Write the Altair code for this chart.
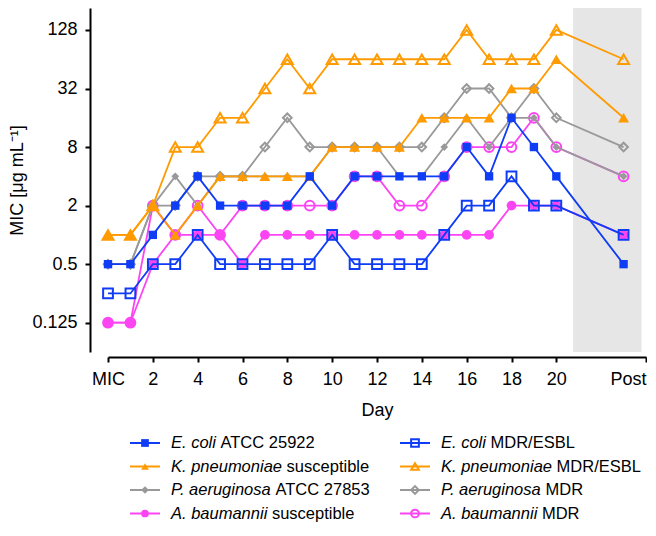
import altair as alt
import pandas as pd

FONT = "Liberation Sans"

# ---- data -------------------------------------------------------------
days = [0, 1, 2, 3, 4, 5, 6, 7, 8, 9, 10, 11, 12, 13, 14, 15, 16, 17, 18, 19, 20, 23]

ec_atcc = [0.5, 0.5, 1, 2, 4, 2, 2, 2, 2, 4, 2, 4, 4, 4, 4, 4, 8, 4, 16, 8, 4, 0.5]
ec_mdr = [0.25, 0.25, 0.5, 0.5, 1, 0.5, 0.5, 0.5, 0.5, 0.5, 1, 0.5, 0.5, 0.5, 0.5, 1, 2, 2, 4, 2, 2, 1]
kp_sus = [1, 1, 2, 1, 2, 4, 4, 4, 4, 4, 8, 8, 8, 8, 16, 16, 16, 16, 32, 32, 64, 16]
kp_mdr = [1, 1, 2, 8, 8, 16, 16, 32, 64, 32, 64, 64, 64, 64, 64, 64, 128, 64, 64, 64, 128, 64]
pa_atcc = [0.5, 0.5, 2, 4, 2, 4, 4, 4, 4, 4, 8, 8, 8, 4, 4, 8, 16, 8, 16, 16, 8, 4]
pa_mdr = [0.5, 0.5, 2, 2, 4, 4, 4, 8, 16, 8, 8, 8, 8, 8, 8, 16, 32, 32, 16, 32, 16, 8]
ab_sus = [0.125, 0.125, 0.5, 1, 1, 1, 0.5, 1, 1, 1, 1, 1, 1, 1, 1, 1, 1, 1, 2, 2, 2, 1]
ab_mdr = [0.125, 0.125, 2, 1, 2, 1, 2, 2, 2, 2, 2, 4, 4, 2, 2, 4, 8, 8, 8, 16, 8, 4]

series_names = [
    "E. coli ATCC 25922", "E. coli MDR/ESBL",
    "K. pneumoniae susceptible", "K. pneumoniae MDR/ESBL",
    "P. aeruginosa ATCC 27853", "P. aeruginosa MDR",
    "A. baumannii susceptible", "A. baumannii MDR",
]
series_values = [ec_atcc, ec_mdr, kp_sus, kp_mdr, pa_atcc, pa_mdr, ab_sus, ab_mdr]

species = ["E. coli", "K. pneumoniae", "P. aeruginosa", "A. baumannii"]
left_rest = ["ATCC 25922", "susceptible", "ATCC 27853", "susceptible"]
right_rest = ["MDR/ESBL", "MDR/ESBL", "MDR", "MDR"]

x_tick_values = [0, 2, 4, 6, 8, 10, 12, 14, 16, 18, 20, 24]
y_tick_values = [0.125, 0.5, 2, 8, 32, 128]
post_region = [20.75, 23.8]
y_domain = [2 ** -4, 2 ** 7.75]

# ---- styles -------------------------------------------------------------
BLUE, ORANGE, GRAY, PINK = "#0f3cf5", "#ff9a00", "#999999", "#fb45f3"
row_colors = [BLUE, ORANGE, GRAY, PINK]
row_shapes = ["square", "triangle-up", "diamond", "circle"]
style = {
    "E. coli ATCC 25922": (BLUE, "square", True, 70),
    "E. coli MDR/ESBL": (BLUE, "square", False, 95),
    "K. pneumoniae susceptible": (ORANGE, "triangle-up", True, 120),
    "K. pneumoniae MDR/ESBL": (ORANGE, "triangle-up", False, 120),
    "P. aeruginosa ATCC 27853": (GRAY, "diamond", True, 60),
    "P. aeruginosa MDR": (GRAY, "diamond", False, 75),
    "A. baumannii susceptible": (PINK, "circle", True, 95),
    "A. baumannii MDR": (PINK, "circle", False, 95),
}

rows = []
for name, vals in zip(series_names, series_values):
    for d, v in zip(days, vals):
        rows.append({"series": name, "day": d, "mic": v})
df = pd.DataFrame(rows)

xscale = alt.Scale(domain=[0, 24], nice=False, zero=False)
yscale = alt.Scale(type="log", base=2, domain=y_domain, nice=False)

xaxis = alt.Axis(
    values=x_tick_values,
    labelExpr="datum.value == 0 ? 'MIC' : (datum.value == 24 ? 'Post' : datum.label)",
    labelAlign={"condition": {"test": "datum.value == 24", "value": "right"}, "value": "center"},
    labelFlush=False, labelOverlap=False, grid=False,
    offset=5, tickSize=5, tickWidth=2, domainWidth=2,
    domainColor="black", tickColor="black",
    labelFontSize=18, titleFontSize=18, labelPadding=8, titlePadding=13,
    labelColor="black", titleColor="black", titleFontWeight="normal",
    labelFont=FONT, titleFont=FONT, title="Day",
)
yaxis = alt.Axis(
    values=y_tick_values, format="~g", grid=False,
    offset=18, tickSize=5, tickWidth=2, domainWidth=2,
    domainColor="black", tickColor="black",
    labelFontSize=18, titleFontSize=18, labelPadding=8, titlePadding=5,
    labelColor="black", titleColor="black", titleFontWeight="normal",
    labelFont=FONT, titleFont=FONT, title="MIC [μg mL⁻¹]",
)

X = alt.X("day:Q", scale=xscale, axis=xaxis)
Y = alt.Y("mic:Q", scale=yscale, axis=yaxis)

shade_df = pd.DataFrame({"day": [post_region[0]], "day2": [post_region[1]],
                         "mic": [y_domain[1]], "mic2": [y_domain[0]]})
shade = alt.Chart(shade_df).mark_rect(color="#e6e6e6").encode(
    x=X, x2="day2:Q", y=Y, y2="mic2:Q"
)

main_layers = [shade]
for name in reversed(series_names):
    color, shape, filled, size = style[name]
    base = alt.Chart(df).transform_filter(alt.datum.series == name)
    main_layers.append(base.mark_line(color=color, strokeWidth=1.8).encode(x=X, y=Y))
    if filled:
        pts = base.mark_point(shape=shape, filled=True, size=size, color=color,
                              opacity=1, strokeWidth=0)
    else:
        pts = base.mark_point(shape=shape, filled=False, size=size, color=color,
                              opacity=1, strokeWidth=2)
    main_layers.append(pts.encode(x=X, y=Y))
main = alt.layer(*main_layers).properties(width=538, height=344)

# ---- legend (built from marks so species names can be italic) -----------
leg_df = pd.DataFrame({
    "row": [0, 1, 2, 3, 0, 1, 2, 3],
    "col": [0, 0, 0, 0, 1, 1, 1, 1],
    "italic": species + species,
    "rest": left_rest + right_rest,
})
LX = alt.X("col:Q", scale=alt.Scale(domain=[0, 1], range=[37, 307]), axis=None)
LY = alt.Y("row:Q", scale=alt.Scale(domain=[0, 3], range=[8, 78.5]), axis=None)
LC = alt.Color("row:N", scale=alt.Scale(domain=[0, 1, 2, 3], range=row_colors), legend=None)
LS = alt.Shape("row:N", scale=alt.Scale(domain=[0, 1, 2, 3], range=row_shapes), legend=None)

lbase = alt.Chart(leg_df)
leg_line = lbase.mark_point(shape="stroke", size=900, strokeWidth=2, filled=False,
                            opacity=1).encode(x=LX, y=LY, color=LC)
leg_fill = lbase.transform_filter(alt.datum.col == 0).mark_point(
    filled=True, size=60, opacity=1, strokeWidth=0).encode(x=LX, y=LY, color=LC, shape=LS)
leg_open = lbase.transform_filter(alt.datum.col == 1).mark_point(
    filled=False, size=60, opacity=1, strokeWidth=2).encode(x=LX, y=LY, color=LC, shape=LS)
TEXT_DX = 26
leg_it = lbase.mark_text(align="left", baseline="middle", dx=TEXT_DX, fontSize=16.5,
                         fontStyle="italic", font=FONT, color="black").encode(
    x=LX, y=LY, text="italic:N")
italic_widths = [49.5, 115.6, 104.5, 100.9]
leg_rest = []
for r, w in enumerate(italic_widths):
    leg_rest.append(
        lbase.transform_filter(alt.datum.row == r).mark_text(
            align="left", baseline="middle", dx=TEXT_DX + w, fontSize=16.5,
            font=FONT, color="black").encode(x=LX, y=LY, text="rest:N")
    )
legend = alt.layer(leg_line, leg_fill, leg_open, leg_it, *leg_rest).properties(
    width=538, height=86
)

chart = alt.vconcat(main, legend, spacing=16).properties(
    padding={"left": 0, "top": 0, "right": 0, "bottom": 0},
).configure(font=FONT).configure_view(stroke=None)

chart.save("out.html", embed_options={"renderer": "svg", "actions": False})
